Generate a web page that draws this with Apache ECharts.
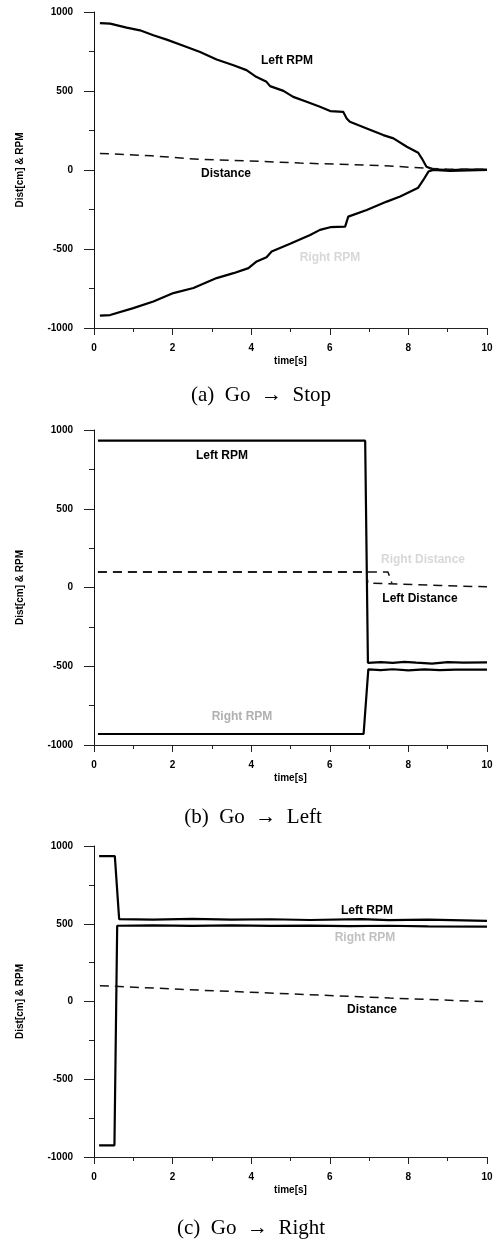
<!DOCTYPE html>
<html>
<head>
<meta charset="utf-8">
<script src="https://cdn.jsdelivr.net/npm/echarts@6/dist/echarts.min.js"></script>
<style>
  html, body { margin: 0; padding: 0; background: #fff; }
  #chart { width: 497px; height: 1244px; }
</style>
</head>
<body>
<div id="chart"></div>
<script>
// (a) Go -> Stop
var stopLeftRpm = [[0.15, 930], [0.41, 926], [0.83, 901], [1.17, 884], [1.51, 853], [1.85, 825],
  [2.36, 779], [2.7, 747], [3.12, 699], [3.55, 663], [3.88, 632], [4.1, 594], [4.39, 558],
  [4.48, 531], [4.82, 501], [5.07, 463], [5.41, 432], [5.75, 400], [6.01, 373], [6.34, 368],
  [6.43, 326], [6.51, 305], [6.94, 263], [7.36, 221], [7.62, 200], [7.96, 147], [8.25, 109],
  [8.34, 74], [8.46, 21], [8.63, 4], [9.06, 0], [9.4, 3], [10, 2]];
var stopRightRpm = [[0.15, -922], [0.41, -918], [1.0, -874], [1.51, -832], [2.02, -779],
  [2.53, -747], [3.12, -684], [3.55, -653], [3.93, -621], [4.14, -579], [4.39, -552],
  [4.52, -516], [4.99, -467], [5.5, -411], [5.75, -379], [6.01, -362], [6.39, -358],
  [6.47, -295], [6.94, -253], [7.45, -200], [7.79, -168], [8.25, -112], [8.38, -63],
  [8.51, -10], [8.63, 0], [9.06, -6], [10, 0]];
var stopDistance = [[0.15, 105], [1.47, 90], [2.7, 67], [3.97, 57], [5.24, 44], [6.5, 34],
  [7.53, 26], [8.5, 10], [9.0, 5], [10, 4]];

// (b) Go -> Left
var leftLeftRpm = [[0.1, 932], [6.9, 932], [6.97, -478], [7.3, -474], [7.6, -479], [7.9, -472],
  [8.2, -477], [8.6, -483], [9.0, -474], [9.4, -477], [10, -476]];
var leftRightRpm = [[0.1, -930], [6.86, -930], [6.98, -520], [7.3, -524], [7.6, -519],
  [8.0, -526], [8.4, -520], [8.8, -525], [9.2, -521], [10, -522]];
var leftLeftDist = [[0.1, 98], [6.93, 98], [6.97, 28], [7.8, 22], [8.8, 13], [10, 4]];
var leftRightDist = [[0.1, 98], [7.48, 98], [7.58, 28]];

// (c) Go -> Right
var rightLeftRpm = [[0.13, 935], [0.53, 935], [0.64, 530], [1.5, 527], [2.5, 531], [3.5, 526],
  [4.5, 529], [5.5, 524], [6.8, 530], [7.5, 523], [8.5, 526], [10, 519]];
var rightRightRpm = [[0.13, -925], [0.52, -925], [0.59, 487], [1.5, 489], [2.5, 486],
  [3.5, 490], [4.5, 486], [5.5, 488], [6.5, 485], [7.5, 487], [8.5, 483], [10, 481]];
var rightDistance = [[0.15, 102], [2.77, 72], [5.0, 49], [7.53, 22], [9.9, 0]];

var xTicks = { min: 0, max: 10, interval: 2 };
var yTicks = { min: -1000, max: 1000, interval: 500 };

var panels = [
  { top: 12, height: 316, caption: '(a)  Go  \u2192  Stop', captionX: 261, captionY: 395 },
  { top: 430, height: 315, caption: '(b)  Go  \u2192  Left', captionX: 253, captionY: 817 },
  { top: 846, height: 311, caption: '(c)  Go  \u2192  Right', captionX: 251, captionY: 1228 }
];

var tickText = { color: '#000', fontWeight: 'bold', fontSize: 10, fontFamily: 'Liberation Sans' };

function xAxis(i) {
  return {
    type: 'value', gridIndex: i, min: xTicks.min, max: xTicks.max, interval: xTicks.interval,
    name: 'time[s]', nameLocation: 'middle', nameGap: 28,
    nameTextStyle: tickText,
    axisLine: { onZero: false, lineStyle: { color: '#222', width: 1 } },
    axisTick: { length: 7, lineStyle: { color: '#222' } },
    minorTick: { show: true, splitNumber: 2, length: 4, lineStyle: { color: '#222' } },
    axisLabel: Object.assign({ margin: 15 }, tickText),
    splitLine: { show: false }
  };
}

function yAxis(i) {
  return {
    type: 'value', gridIndex: i, min: yTicks.min, max: yTicks.max, interval: yTicks.interval,
    name: 'Dist[cm] & RPM', nameLocation: 'middle', nameGap: 69,
    nameTextStyle: tickText,
    axisLine: { show: true, lineStyle: { color: '#111', width: 1 } },
    axisTick: { length: 10, lineStyle: { color: '#222' } },
    minorTick: { show: true, splitNumber: 2, length: 5, lineStyle: { color: '#222' } },
    axisLabel: Object.assign({ margin: 21, formatter: function (v) { return String(v); } }, tickText),
    splitLine: { show: false }
  };
}

function solid(name, i, data) {
  return {
    name: name, type: 'line', xAxisIndex: i, yAxisIndex: i, data: data,
    showSymbol: false, symbol: 'none', silent: true,
    lineStyle: { color: '#000', width: 2.2 }
  };
}

function dashed(name, i, data) {
  return {
    name: name, type: 'line', xAxisIndex: i, yAxisIndex: i, data: data,
    showSymbol: false, symbol: 'none', silent: true,
    lineStyle: { color: '#111', width: 1.5, type: [9, 6] }
  };
}

var graphics = [];
panels.forEach(function (p) {
  graphics.push({
    type: 'text', x: p.captionX, y: p.captionY,
    style: {
      text: p.caption, align: 'center', verticalAlign: 'middle',
      font: '21px "Liberation Serif", "Times New Roman", serif', fill: '#000'
    }
  });
});

function textAt(text, x, y, color) {
  graphics.push({
    type: 'text', x: x, y: y,
    style: {
      text: text, align: 'center', verticalAlign: 'middle',
      font: 'bold 12px "Liberation Sans", Arial, sans-serif', fill: color || '#000'
    }
  });
}
textAt('Left RPM', 287, 61);
textAt('Distance', 226, 174);
textAt('Right RPM', 330, 258, '#d8d8d8');
textAt('Left RPM', 222, 456);
textAt('Left Distance', 420, 599);
textAt('Right RPM', 242, 717, '#b0b0b0');
textAt('Right Distance', 423, 560, '#d8d8d8');
textAt('Left RPM', 367, 911);
textAt('Right RPM', 365, 938, '#c0c0c0');
textAt('Distance', 372, 1010);

var chart = echarts.init(document.getElementById('chart'), null, { renderer: 'canvas' });
chart.setOption({
  animation: false,
  backgroundColor: '#fff',
  grid: panels.map(function (p) {
    return { left: 94, right: 10, top: p.top, height: p.height, containLabel: false };
  }),
  xAxis: [xAxis(0), xAxis(1), xAxis(2)],
  yAxis: [yAxis(0), yAxis(1), yAxis(2)],
  series: [
    solid('Left RPM', 0, stopLeftRpm),
    solid('Right RPM', 0, stopRightRpm),
    dashed('Distance', 0, stopDistance),
    solid('Left RPM', 1, leftLeftRpm),
    solid('Right RPM', 1, leftRightRpm),
    dashed('Left Distance', 1, leftLeftDist),
    dashed('Right Distance', 1, leftRightDist),
    solid('Left RPM', 2, rightLeftRpm),
    solid('Right RPM', 2, rightRightRpm),
    dashed('Distance', 2, rightDistance)
  ],
  graphic: graphics
});
</script>
</body>
</html>
